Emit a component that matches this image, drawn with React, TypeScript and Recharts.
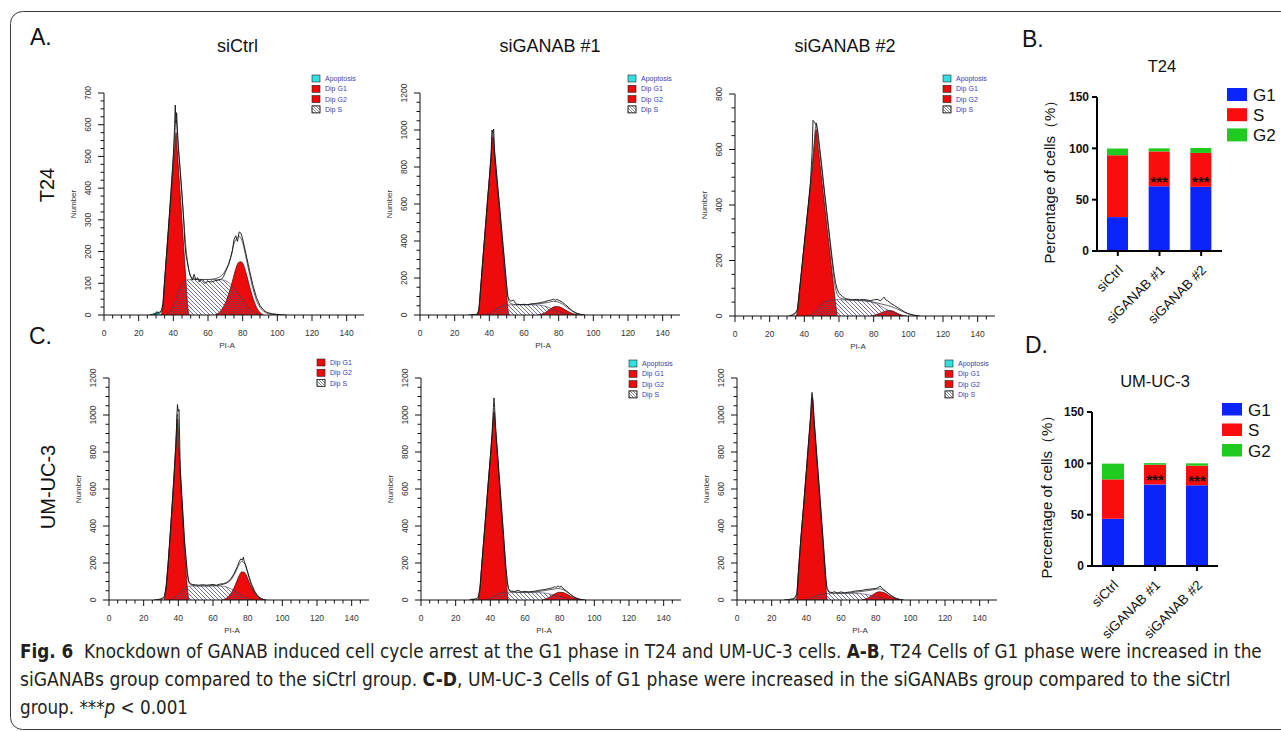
import React from 'react';
import { ComposedChart, Area, Line, Scatter, XAxis, YAxis, BarChart, Bar, LabelList } from 'recharts';

const FONT = "'Liberation Sans', Arial, Helvetica, sans-serif";
const NARROW = "'Liberation Sans Narrow', 'Arial Narrow', 'DejaVu Sans Condensed', 'Liberation Sans', sans-serif";
const RED = '#ee0b0b';
const CYAN = '#33e0e0';
const LEG_TEXT = '#3b3bb0';

// ---------- histogram tick labels ----------
const HIST_X_MAJOR = [0, 20, 40, 60, 80, 100, 120, 140];
const HIST_X_EXTRA = [145];
const Y_MAJOR_700 = [0, 100, 200, 300, 400, 500, 600, 700];
const Y_MAJOR_800 = [0, 200, 400, 600, 800];
const Y_MAJOR_1200 = [0, 200, 400, 600, 800, 1000, 1200];

// ---------- T24 siCtrl ----------
const T24_CTRL_APO = [[27, 0], [29, 4], [30.5, 11], [32, 5], [33, 0]];
const T24_CTRL_G1 = [[33, 0], [34, 30], [35, 108], [36, 180], [37, 252], [38, 324], [39, 395], [40, 467], [41, 540], [41.6, 575], [42.2, 525], [43, 460], [44, 378], [45, 296], [46, 213], [47, 131], [47.8, 62], [48.4, 22], [49, 0]];
const T24_CTRL_S = [[36, 0], [38, 10], [40, 30], [42, 60], [44, 88], [46, 105], [48, 111], [52, 112], [58, 112], [64, 112], [68, 111], [71, 106], [74, 92], [77, 72], [80, 50], [83, 28], [86, 12], [89, 3], [91, 0]];
const T24_CTRL_G2 = [[64, 0], [66, 6], [68, 18], [70, 38], [72, 68], [74, 105], [76, 145], [77.5, 165], [79, 168], [80.5, 158], [82, 132], [84, 90], [86, 52], [88, 24], [90, 8], [92, 0]];
const T24_CTRL_RAW = [[26, 0], [28, 2], [30, 6], [32, 9], [33, 12], [34, 35], [35, 112], [36, 188], [37, 262], [38, 340], [39, 420], [40, 505], [40.7, 590], [41.1, 662], [41.5, 605], [41.9, 638], [42.5, 570], [43, 525], [44, 455], [45, 380], [46, 300], [46.6, 230], [47.2, 192], [48, 170], [49, 140], [50, 122], [51, 110], [52, 128], [53, 110], [54, 118], [55, 104], [56, 112], [58, 100], [60, 106], [62, 104], [64, 108], [66, 110], [68, 114], [69, 122], [70, 135], [72, 160], [73, 180], [74, 200], [75, 238], [76, 250], [77, 232], [78, 262], [79, 258], [80, 240], [81, 215], [82, 190], [84, 140], [86, 92], [88, 55], [90, 30], [92, 16], [94, 8], [97, 4], [100, 2], [105, 0]];
const T24_CTRL_FIT = [[28, 0], [31, 4], [33, 10], [34, 30], [35, 105], [36, 182], [37, 255], [38, 332], [39, 412], [40, 495], [41, 580], [41.6, 615], [42.2, 575], [43, 515], [44, 448], [45, 375], [46, 300], [47, 230], [48, 175], [49, 140], [50, 120], [54, 112], [60, 112], [66, 118], [70, 140], [73, 180], [75, 225], [77, 245], [78, 248], [80, 228], [82, 180], [84, 128], [86, 82], [88, 46], [90, 24], [93, 9], [97, 2], [101, 0]];
const T24_CTRL_TRI = [41, 78];

// ---------- T24 siGANAB #1 ----------
const T24_KD1_G1 = [[33, 0], [34, 30], [35, 145], [36, 267], [37, 383], [38, 499], [39, 615], [40, 731], [41, 847], [42, 963], [43, 856], [44, 749], [45, 642], [46, 535], [47, 428], [48, 321], [49, 214], [50, 107], [50.5, 55], [51, 15], [51.5, 0]];
const T24_KD1_S = [[37, 0], [40, 8], [43, 25], [46, 44], [49, 54], [52, 55], [58, 55], [64, 55], [69, 53], [72, 48], [75, 38], [78, 27], [81, 16], [84, 8], [87, 2], [89, 0]];
const T24_KD1_G2 = [[68, 0], [70, 4], [72, 12], [74, 25], [76, 38], [78, 46], [80, 45], [82, 38], [84, 27], [86, 16], [88, 8], [90, 3], [92, 0]];
const T24_KD1_RAW = [[28, 0], [31, 3], [33, 2], [34, 32], [35, 150], [36, 270], [37, 390], [38, 510], [39, 630], [40, 740], [41, 865], [41.5, 1000], [42, 985], [42.5, 1005], [43, 890], [44, 785], [45, 680], [46, 580], [47, 475], [48, 370], [49, 265], [50, 160], [50.7, 100], [51.5, 82], [52.5, 74], [53, 78], [54, 80], [55, 64], [56, 58], [58, 56], [60, 58], [62, 55], [64, 60], [66, 62], [68, 64], [70, 68], [72, 72], [74, 78], [76, 82], [77, 86], [78, 80], [79, 84], [80, 80], [82, 70], [84, 55], [86, 38], [88, 22], [90, 10], [92, 4], [95, 0]];
const T24_KD1_FIT = [[30, 0], [33, 5], [34, 30], [35, 140], [36, 260], [37, 380], [38, 500], [39, 620], [40, 735], [41, 860], [42, 985], [43, 880], [44, 775], [45, 670], [46, 570], [47, 465], [48, 360], [49, 255], [50, 150], [50.8, 90], [52, 65], [55, 56], [60, 56], [65, 58], [70, 62], [74, 68], [77, 74], [79, 72], [82, 60], [85, 40], [88, 20], [91, 8], [95, 0]];
const T24_KD1_TRI = [41.8, 77.6];

// ---------- T24 siGANAB #2 ----------
const T24_KD2_G1 = [[35, 0], [36, 15], [37, 75], [38, 135], [40, 256], [42, 377], [44, 498], [45.5, 593], [46.8, 672], [48, 605], [50, 493], [52, 381], [54, 269], [56, 157], [57.5, 73], [58.3, 30], [59, 0]];
const T24_KD2_S = [[42, 0], [45, 10], [48, 30], [51, 48], [54, 57], [58, 59], [64, 58], [70, 57], [76, 55], [80, 48], [84, 36], [88, 22], [92, 10], [95, 3], [97, 0]];
const T24_KD2_G2 = [[78, 0], [81, 4], [84, 11], [87, 18], [89, 20], [91, 18], [93, 12], [95, 6], [97, 2], [99, 0]];
const T24_KD2_RAW = [[31, 0], [33, 4], [35, 12], [36, 25], [37, 82], [38, 142], [40, 265], [42, 385], [43.5, 480], [44.5, 590], [45, 705], [45.5, 700], [46, 698], [46.5, 690], [47, 695], [48, 655], [49, 600], [50, 545], [51, 485], [52, 430], [53, 375], [54, 320], [55, 265], [56, 210], [57, 160], [58, 120], [59, 95], [60, 82], [62, 70], [64, 62], [66, 60], [68, 58], [70, 60], [72, 58], [74, 60], [76, 58], [78, 55], [80, 58], [82, 60], [84, 55], [85, 62], [86, 68], [87, 58], [88, 55], [90, 45], [92, 38], [94, 30], [96, 22], [98, 14], [100, 8], [103, 3], [106, 0]];
const T24_KD2_FIT = [[32, 0], [35, 10], [36, 22], [37, 78], [38, 138], [40, 258], [42, 378], [44, 500], [45.5, 610], [46.8, 690], [48, 632], [50, 530], [52, 415], [54, 305], [55, 250], [56, 195], [57, 140], [58, 100], [59, 78], [61, 64], [66, 58], [72, 56], [78, 52], [84, 44], [88, 38], [92, 30], [96, 18], [100, 8], [104, 2], [107, 0]];
const T24_KD2_TRI = [45.5, 89];

// ---------- UM-UC-3 siCtrl ----------
const UM_CTRL_G1 = [[31.9, 0], [32.85, 66], [33.8, 161], [35.7, 397], [37.6, 673], [38.55, 821], [39.5, 978], [40.3, 821], [41.1, 673], [42.75, 397], [44.4, 161], [45.2, 66], [46, 0]];
const UM_CTRL_S = [[35, 0], [37, 8], [39, 22], [41, 42], [43, 60], [45, 72], [48, 76], [55, 76], [62, 76], [66, 74], [69, 66], [72, 52], [75, 35], [78, 18], [81, 6], [83, 0]];
const UM_CTRL_G2 = [[65, 0], [67, 6], [69, 20], [71, 45], [73, 85], [75, 130], [76.5, 152], [78, 150], [79.5, 128], [81, 92], [83, 55], [85, 25], [87, 8], [89, 0]];
const UM_CTRL_RAW = [[26, 0], [29, 4], [31, 10], [32, 22], [33, 75], [34, 185], [35.7, 412], [37.6, 690], [38.6, 850], [39.2, 1000], [39.5, 1056], [39.9, 1020], [40.4, 1030], [41.1, 715], [42, 565], [42.75, 450], [43.5, 330], [44.4, 235], [45.2, 150], [46, 102], [47, 88], [48, 84], [50, 82], [52, 80], [54, 83], [56, 80], [58, 82], [60, 84], [62, 80], [64, 86], [66, 88], [68, 95], [70, 110], [72, 140], [74, 180], [75, 205], [76, 222], [77, 215], [77.5, 232], [78, 210], [79, 185], [80, 150], [81, 115], [82, 85], [84, 45], [86, 18], [88, 6], [90, 0]];
const UM_CTRL_FIT = [[28, 0], [31, 6], [32, 18], [33, 65], [34, 175], [35.7, 405], [37.6, 680], [38.6, 840], [39.5, 1005], [40.3, 850], [41.1, 700], [42, 555], [42.75, 440], [43.5, 320], [44.4, 215], [45.2, 135], [46, 98], [47, 84], [50, 77], [56, 76], [62, 78], [66, 85], [70, 105], [73, 150], [75, 190], [76.5, 208], [78, 200], [80, 150], [82, 95], [84, 50], [86, 22], [88, 8], [91, 0]];
const UM_CTRL_TRI = [39.5, 78];

// ---------- UM-UC-3 siGANAB #1 ----------
const UM_KD1_APO = [[28, 0], [29.5, 6], [31, 0]];
const UM_KD1_G1 = [[33, 0], [34, 60], [35, 180], [36, 295], [37, 410], [38, 530], [39, 648], [40, 763], [41, 880], [42.2, 1018], [43, 914], [44, 783], [45, 653], [46, 522], [47, 392], [48, 261], [49, 131], [49.6, 60], [50.3, 0]];
const UM_KD1_S = [[37, 0], [40, 10], [43, 25], [46, 38], [49, 43], [52, 42], [58, 40], [64, 40], [70, 39], [74, 33], [78, 24], [82, 14], [85, 7], [88, 2], [90, 0]];
const UM_KD1_G2 = [[70, 0], [72, 6], [74, 15], [76, 27], [78, 37], [80, 42], [82, 40], [84, 32], [86, 22], [88, 12], [90, 5], [93, 0]];
const UM_KD1_RAW = [[28, 0], [30, 3], [32, 8], [33, 15], [34, 65], [35, 185], [36, 302], [37, 418], [38, 540], [39, 660], [40, 775], [41, 900], [41.8, 1040], [42.1, 1092], [42.5, 1040], [43, 940], [44, 815], [45, 688], [46, 562], [47, 435], [48, 305], [49, 175], [49.8, 100], [50.5, 62], [51, 52], [52, 48], [54, 46], [56, 52], [58, 44], [60, 46], [62, 44], [64, 46], [66, 48], [68, 52], [70, 55], [72, 58], [74, 62], [76, 66], [77, 72], [78, 68], [79, 76], [80, 70], [81, 74], [82, 62], [84, 48], [86, 32], [88, 18], [90, 8], [92, 3], [95, 0]];
const UM_KD1_FIT = [[30, 0], [33, 6], [34, 55], [35, 178], [36, 298], [37, 415], [38, 535], [39, 655], [40, 770], [41, 890], [42.2, 1010], [43, 925], [44, 800], [45, 672], [46, 545], [47, 420], [48, 292], [49, 168], [49.8, 95], [50.5, 60], [52, 44], [56, 42], [62, 42], [68, 46], [72, 52], [76, 58], [79, 62], [82, 56], [85, 38], [88, 18], [91, 6], [94, 0]];
const UM_KD1_TRI = [42, 81];

// ---------- UM-UC-3 siGANAB #2 ----------
const UM_KD2_G1 = [[33.8, 0], [34.6, 25], [35.5, 155], [37, 345], [38.5, 510], [40, 688], [41.5, 866], [42.5, 985], [43.4, 1091], [44.5, 950], [46, 757], [47.5, 565], [49, 372], [50.5, 180], [51.3, 70], [52, 0]];
const UM_KD2_S = [[39, 0], [42, 8], [45, 20], [48, 30], [51, 35], [55, 36], [62, 36], [68, 36], [72, 34], [76, 28], [80, 20], [84, 11], [87, 5], [90, 0]];
const UM_KD2_G2 = [[72, 0], [74, 5], [76, 14], [78, 26], [80, 38], [82, 44], [84, 42], [86, 34], [88, 22], [90, 11], [92, 4], [94, 0]];
const UM_KD2_RAW = [[27, 0], [30, 3], [33, 8], [34.5, 32], [35.5, 162], [37, 352], [38.5, 520], [40, 700], [41.5, 882], [42.5, 1000], [43, 1100], [43.3, 1122], [43.7, 1090], [44.5, 975], [46, 790], [47.5, 605], [49, 415], [50.5, 220], [51.3, 115], [52, 62], [53, 45], [54, 42], [55, 40], [56, 45], [58, 38], [60, 44], [62, 38], [64, 42], [66, 44], [68, 48], [70, 50], [72, 52], [74, 56], [76, 58], [78, 60], [80, 62], [81, 65], [82, 70], [82.6, 76], [83, 70], [84, 62], [86, 46], [88, 30], [90, 16], [92, 7], [94, 2], [96, 0]];
const UM_KD2_FIT = [[30, 0], [33, 5], [34.5, 28], [35.5, 158], [37, 348], [38.5, 515], [40, 692], [41.5, 872], [42.5, 990], [43.4, 1095], [44.5, 965], [46, 775], [47.5, 590], [49, 400], [50.5, 205], [51.3, 105], [52, 58], [54, 38], [58, 36], [64, 38], [70, 44], [75, 50], [79, 56], [82, 60], [84, 55], [87, 38], [90, 18], [93, 6], [96, 0]];
const UM_KD2_TRI = [42.5, 82.5];

// ---------- stacked bar data ----------
const BAR_CATS = ['siCtrl', 'siGANAB #1', 'siGANAB #2'];
const T24_BAR_G1 = [33, 63, 62.5];
const T24_BAR_S = [60.3, 34, 33];
const T24_BAR_G2 = [6.5, 3, 4.8];
const T24_BAR_SIG = ['', '***', '***'];
const UM_BAR_G1 = [46, 79.5, 78.6];
const UM_BAR_S = [38.4, 19.2, 19.1];
const UM_BAR_G2 = [15.3, 1.5, 2.3];
const UM_BAR_SIG = ['', '***', '***'];
const BAR_Y_TICKS = [0, 50, 100, 150];
const BAR_SERIES = ['G1', 'S', 'G2'];
const BAR_COLORS = ['#0b24fb', '#fb0d0d', '#1fcb1f'];

// ---------- helpers ----------
const pts = (a: number[][]) => a.map(([x, y]) => ({ x, y }));
const subdivide = (majors: number[], parts: number) => {
  const out: number[] = [];
  for (let i = 0; i < majors.length; i++) {
    out.push(majors[i]);
    if (i < majors.length - 1) {
      const st = (majors[i + 1] - majors[i]) / parts;
      for (let k = 1; k < parts; k++) out.push(majors[i] + st * k);
    }
  }
  return out;
};

type LegKey = 'apo' | 'g1' | 'g2' | 's';
type HistCfg = {
  id: string; axisX: number; plotTop: number; yMajor: number[];
  g1: number[][]; g2: number[][]; s: number[][]; raw: number[][]; fit: number[][]; apo?: number[][];
  tri: number[]; legend: LegKey[]; legendY0: number;
};

const HISTS: HistCfg[] = [
  { id: 'a1', axisX: 104, plotTop: 93, yMajor: Y_MAJOR_700, g1: T24_CTRL_G1, g2: T24_CTRL_G2, s: T24_CTRL_S, raw: T24_CTRL_RAW, fit: T24_CTRL_FIT, apo: T24_CTRL_APO, tri: T24_CTRL_TRI, legend: ['apo', 'g1', 'g2', 's'], legendY0: 2 },
  { id: 'a2', axisX: 420, plotTop: 93, yMajor: Y_MAJOR_1200, g1: T24_KD1_G1, g2: T24_KD1_G2, s: T24_KD1_S, raw: T24_KD1_RAW, fit: T24_KD1_FIT, tri: T24_KD1_TRI, legend: ['apo', 'g1', 'g2', 's'], legendY0: 2 },
  { id: 'a3', axisX: 735, plotTop: 94, yMajor: Y_MAJOR_800, g1: T24_KD2_G1, g2: T24_KD2_G2, s: T24_KD2_S, raw: T24_KD2_RAW, fit: T24_KD2_FIT, tri: T24_KD2_TRI, legend: ['apo', 'g1', 'g2', 's'], legendY0: 1 },
  { id: 'c1', axisX: 109, plotTop: 378, yMajor: Y_MAJOR_1200, g1: UM_CTRL_G1, g2: UM_CTRL_G2, s: UM_CTRL_S, raw: UM_CTRL_RAW, fit: UM_CTRL_FIT, tri: UM_CTRL_TRI, legend: ['g1', 'g2', 's'], legendY0: 1 },
  { id: 'c2', axisX: 421, plotTop: 378, yMajor: Y_MAJOR_1200, g1: UM_KD1_G1, g2: UM_KD1_G2, s: UM_KD1_S, raw: UM_KD1_RAW, fit: UM_KD1_FIT, apo: UM_KD1_APO, tri: UM_KD1_TRI, legend: ['apo', 'g1', 'g2', 's'], legendY0: 2 },
  { id: 'c3', axisX: 737, plotTop: 378, yMajor: Y_MAJOR_1200, g1: UM_KD2_G1, g2: UM_KD2_G2, s: UM_KD2_S, raw: UM_KD2_RAW, fit: UM_KD2_FIT, tri: UM_KD2_TRI, legend: ['apo', 'g1', 'g2', 's'], legendY0: 2 },
];

const LEG_LABEL: Record<LegKey, string> = { apo: 'Apoptosis', g1: 'Dip G1', g2: 'Dip G2', s: 'Dip S' };

const PW = 260, PH = 222, ML = 40, MT = 20, MR = 10, XH = 45;

const HistXTick = (props: any) => {
  const { x, y, payload } = props;
  const v = payload.value;
  const major = v % 20 === 0;
  return (
    <g>
      <line x1={x} x2={x} y1={y} y2={y + (major ? 6 : 3.5)} stroke="#111" strokeWidth={1} />
      {major && (
        <text x={x} y={y + 21} textAnchor="middle" fontSize={8.5} fill="#333" fontFamily={FONT}>{v}</text>
      )}
    </g>
  );
};

const makeHistYTick = (step: number) => (props: any) => {
  const { x, y, payload } = props;
  const v = payload.value;
  const major = Math.abs(v % step) < 1e-6;
  return (
    <g>
      <line x1={x} x2={x - (major ? 6 : 3.5)} y1={y} y2={y} stroke="#111" strokeWidth={1} />
      {major && (
        <text transform={`translate(${x - 13},${y}) rotate(-90)`} textAnchor="middle" fontSize={8.5} fill="#333" fontFamily={FONT}>{v}</text>
      )}
    </g>
  );
};

const Tri = (p: any) => {
  const { cx, cy } = p;
  return <polygon points={`${cx},${cy + 0.5} ${cx - 4},${cy + 8} ${cx + 4},${cy + 8}`} fill="#000" />;
};

function Histogram({ c }: { c: HistCfg }) {
  const yTicks = subdivide(c.yMajor, 4);
  const yStep = c.yMajor[1] - c.yMajor[0];
  const yMax = c.yMajor[c.yMajor.length - 1];
  const xTicks = [...subdivide(HIST_X_MAJOR, 4), ...HIST_X_EXTRA];
  const W = ML + PW + MR, H = MT + PH + XH;
  const hatch = `hatch-${c.id}`;
  const lhatch = `lhatch-${c.id}`;
  const triData = c.tri.map((x) => ({ x, y: 0 }));
  return (
    <div style={{ position: 'absolute', left: c.axisX - ML, top: c.plotTop - MT, width: W, height: H }}>
      <ComposedChart width={W} height={H} margin={{ top: MT, right: MR, bottom: 0, left: 0 }}>
        <defs>
          <pattern id={hatch} patternUnits="userSpaceOnUse" width="4" height="4">
            <path d="M0,0 L4,4 M-1,3 L1,5 M3,-1 L5,1" stroke="#4d5080" strokeWidth="0.8" />
          </pattern>
        </defs>
        <XAxis type="number" dataKey="x" domain={[0, 150]} ticks={xTicks} interval={0} allowDataOverflow
          tickLine={false} tickSize={0} tickMargin={0} height={XH} tick={HistXTick} axisLine={{ stroke: '#111' }} />
        <YAxis type="number" dataKey="y" domain={[0, yMax]} ticks={yTicks} interval={0} allowDataOverflow
          tickLine={false} tickSize={0} tickMargin={0} width={ML} tick={makeHistYTick(yStep)} axisLine={{ stroke: '#111' }} />
        {c.apo && (
          <Area data={pts(c.apo)} dataKey="y" type="monotone" fill={CYAN} fillOpacity={1} stroke="#2a6a6a" strokeWidth={0.6} dot={false} activeDot={false} isAnimationActive={false} />
        )}
        <Area data={pts(c.g1)} dataKey="y" type="monotone" fill={RED} fillOpacity={1} stroke="#4a0000" strokeWidth={0.7} dot={false} activeDot={false} isAnimationActive={false} />
        <Area data={pts(c.g2)} dataKey="y" type="monotone" fill={RED} fillOpacity={1} stroke="#4a0000" strokeWidth={0.7} dot={false} activeDot={false} isAnimationActive={false} />
        <Area data={pts(c.s)} dataKey="y" type="monotone" fill={`url(#${hatch})`} fillOpacity={1} stroke="#3a3a55" strokeWidth={0.6} dot={false} activeDot={false} isAnimationActive={false} />
        <Line data={pts(c.fit)} dataKey="y" type="monotone" stroke="#3a3a3a" strokeWidth={0.8} dot={false} activeDot={false} isAnimationActive={false} />
        <Line data={pts(c.raw)} dataKey="y" type="linear" stroke="#111" strokeWidth={0.9} dot={false} activeDot={false} isAnimationActive={false} />
        <Scatter data={triData} dataKey="y" shape={Tri} isAnimationActive={false} />
      </ComposedChart>
      <svg style={{ position: 'absolute', left: 0, top: 0, pointerEvents: 'none', overflow: 'visible' }} width={W} height={H}>
        <defs>
          <pattern id={lhatch} patternUnits="userSpaceOnUse" width="3" height="3">
            <path d="M0,0 L3,3 M-1,2 L1,4 M2,-1 L4,1" stroke="#333" strokeWidth="0.6" />
          </pattern>
        </defs>
        <text transform={`translate(${ML - 28},${MT + PH / 2}) rotate(-90)`} textAnchor="middle" fontSize={8} fill="#333" fontFamily={FONT}>Number</text>
        <text x={ML + (71 * PW) / 150} y={MT + PH + 33} textAnchor="middle" fontSize={8} fill="#333" fontFamily={FONT}>PI-A</text>
        {c.legend.map((k, i) => {
          const cy = c.legendY0 + 3.5 + i * 10.3;
          const fill = k === 'apo' ? CYAN : k === 's' ? `url(#${lhatch})` : RED;
          return (
            <g key={k}>
              <rect x={ML + 208} y={cy - 3.5} width={8} height={7} fill={k === 's' ? '#fff' : fill} stroke="#222" strokeWidth={0.6} />
              {k === 's' && <rect x={ML + 208} y={cy - 3.5} width={8} height={7} fill={fill} stroke="#222" strokeWidth={0.6} />}
              <text x={ML + 221} y={cy + 2.5} fontSize={7} fill={LEG_TEXT} fontFamily={FONT}>{LEG_LABEL[k]}</text>
            </g>
          );
        })}
      </svg>
    </div>
  );
}

// ---------- stacked bar panels ----------
type BarCfg = {
  id: string; axisX: number; zeroY: number; plotW: number; barSize: number;
  g1: number[]; s: number[]; g2: number[]; sig: string[];
};
const BARS: BarCfg[] = [
  { id: 'b', axisX: 1097, zeroY: 251, plotW: 125, barSize: 21, g1: T24_BAR_G1, s: T24_BAR_S, g2: T24_BAR_G2, sig: T24_BAR_SIG },
  { id: 'd', axisX: 1092, zeroY: 566, plotW: 126, barSize: 22, g1: UM_BAR_G1, s: UM_BAR_S, g2: UM_BAR_G2, sig: UM_BAR_SIG },
];

const BPH = 154, BML = 60, BMT = 10, BXH = 90, BMR = 10;

const BarYTick = (props: any) => {
  const { x, y, payload } = props;
  return (
    <g>
      <line x1={x} x2={x - 5} y1={y} y2={y} stroke="#000" strokeWidth={2} />
      <text x={x - 8} y={y + 4.3} textAnchor="end" fontSize={12} fontWeight="bold" fill="#111" fontFamily={FONT}>{payload.value}</text>
    </g>
  );
};

const BarXTick = (props: any) => {
  const { x, y, payload } = props;
  return (
    <g>
      <line x1={x} x2={x} y1={y} y2={y + 5} stroke="#000" strokeWidth={2} />
      <text transform={`translate(${x + 6},${y + 20}) rotate(-45)`} textAnchor="end" fontSize={13.5} fill="#111" fontFamily={FONT}>{payload.value}</text>
    </g>
  );
};

const StarLabel = (p: any) => {
  const vb = p.viewBox && p.viewBox.height !== undefined ? p.viewBox : p;
  const { x, y, width, height } = vb;
  if (!p.value) return null;
  return (
    <text x={x + width / 2} y={y + height + 0.5} textAnchor="middle" fontSize={15} fontWeight="bold" fill="#111" fontFamily={FONT}>{p.value}</text>
  );
};

function BarPanel({ c }: { c: BarCfg }) {
  const data = BAR_CATS.map((name, i) => ({ name, g1: c.g1[i], s: c.s[i], g2: c.g2[i], sig: c.sig[i] }));
  const W = BML + c.plotW + BMR, H = BMT + BPH + BXH;
  return (
    <div style={{ position: 'absolute', left: c.axisX - BML, top: c.zeroY - BPH - BMT, width: W, height: H }}>
      <BarChart width={W} height={H} data={data} margin={{ top: BMT, right: BMR, bottom: 0, left: 0 }}>
        <XAxis dataKey="name" interval={0} tickLine={false} tickSize={0} tickMargin={0} height={BXH} tick={BarXTick}
          axisLine={{ stroke: '#000', strokeWidth: 2 }} />
        <YAxis type="number" domain={[0, 150]} ticks={BAR_Y_TICKS} interval={0} width={BML} tickLine={false} tickSize={0} tickMargin={0}
          tick={BarYTick} axisLine={{ stroke: '#000', strokeWidth: 2 }} />
        <Bar dataKey="g1" stackId="a" fill={BAR_COLORS[0]} barSize={c.barSize} isAnimationActive={false} />
        <Bar dataKey="s" stackId="a" fill={BAR_COLORS[1]} barSize={c.barSize} isAnimationActive={false}>
          <LabelList dataKey="sig" content={StarLabel} />
        </Bar>
        <Bar dataKey="g2" stackId="a" fill={BAR_COLORS[2]} barSize={c.barSize} isAnimationActive={false} />
      </BarChart>
    </div>
  );
}

// ---------- caption line: narrow look, scaled to the measured reference width ----------
function CaptionLine({ baseline, width, children }: { baseline: number; width: number; children: React.ReactNode }) {
  const ref = React.useRef<HTMLDivElement>(null);
  const [k, setK] = React.useState(1);
  React.useLayoutEffect(() => {
    if (ref.current) {
      const w = ref.current.scrollWidth;
      if (w > 0) setK(width / w);
    }
  }, [width]);
  return (
    <div
      ref={ref}
      style={{
        position: 'absolute', left: 20, top: baseline - 19, whiteSpace: 'pre', fontFamily: NARROW, fontSize: 20,
        lineHeight: '24px', color: '#231f20', transform: `scaleX(${k})`, transformOrigin: '0 0',
      }}
    >
      {children}
    </div>
  );
}

// ---------- page overlay (titles, letters, legends) ----------
function Overlay() {
  const T = { fontFamily: FONT, fill: '#111' } as const;
  const barLegends = [
    { x: 1227, y0: 88, step: 20.2, w: 20, h: 13 },
    { x: 1222, y0: 403, step: 20.5, w: 20, h: 12.5 },
  ];
  return (
    <svg width={1281} height={732} style={{ position: 'absolute', left: 0, top: 0, pointerEvents: 'none' }}>
      <rect x={10.5} y={11.5} width={1320} height={718} rx={12} fill="none" stroke="#3a3a3a" strokeWidth={1} />
      <text x={30} y={45} fontSize={23} {...T}>A.</text>
      <text x={1022} y={47} fontSize={23} {...T}>B.</text>
      <text x={29} y={344} fontSize={23} {...T}>C.</text>
      <text x={1025} y={353} fontSize={23} {...T}>D.</text>
      <text x={237.5} y={52} fontSize={18} textAnchor="middle" {...T}>siCtrl</text>
      <text x={550} y={52} fontSize={18} textAnchor="middle" {...T}>siGANAB #1</text>
      <text x={845} y={52} fontSize={18} textAnchor="middle" {...T}>siGANAB #2</text>
      <text transform="translate(54,185) rotate(-90)" fontSize={20} textAnchor="middle" {...T}>T24</text>
      <text transform="translate(55,487) rotate(-90)" fontSize={20} textAnchor="middle" {...T}>UM-UC-3</text>
      <text x={1162} y={72} fontSize={16.5} textAnchor="middle" {...T}>T24</text>
      <text x={1155} y={387} fontSize={16.5} textAnchor="middle" {...T}>UM-UC-3</text>
      <text transform="translate(1055,178) rotate(-90)" fontSize={15} textAnchor="middle" {...T}>Percentage of cells（%）</text>
      <text transform="translate(1052,493) rotate(-90)" fontSize={15} textAnchor="middle" {...T}>Percentage of cells（%）</text>
      {barLegends.map((l, j) => (
        <g key={j}>
          {BAR_SERIES.map((s, i) => (
            <g key={s}>
              <rect x={l.x} y={l.y0 + i * l.step} width={l.w} height={l.h} fill={BAR_COLORS[i]} />
              <text x={l.x + l.w + 6} y={l.y0 + i * l.step + l.h} fontSize={17} {...T}>{s}</text>
            </g>
          ))}
        </g>
      ))}
    </svg>
  );
}

export default function App() {
  return (
    <div style={{ position: 'absolute', left: 0, top: 0, width: 1281, height: 732, overflow: 'hidden', background: '#fff' }}>
      {HISTS.map((c) => (
        <Histogram key={c.id} c={c} />
      ))}
      {BARS.map((c) => (
        <BarPanel key={c.id} c={c} />
      ))}
      <Overlay />
      <CaptionLine baseline={658} width={1242}>
        <b>Fig. 6</b>{'  Knockdown of GANAB induced cell cycle arrest at the G1 phase in T24 and UM-UC-3 cells. '}<b>A-B</b>{', T24 Cells of G1 phase were increased in the'}
      </CaptionLine>
      <CaptionLine baseline={686} width={1211}>
        {'siGANABs group compared to the siCtrl group. '}<b>C-D</b>{', UM-UC-3 Cells of G1 phase were increased in the siGANABs group compared to the siCtrl'}
      </CaptionLine>
      <CaptionLine baseline={714} width={168}>
        {'group. ***'}<i>p</i>{' < 0.001'}
      </CaptionLine>
    </div>
  );
}
